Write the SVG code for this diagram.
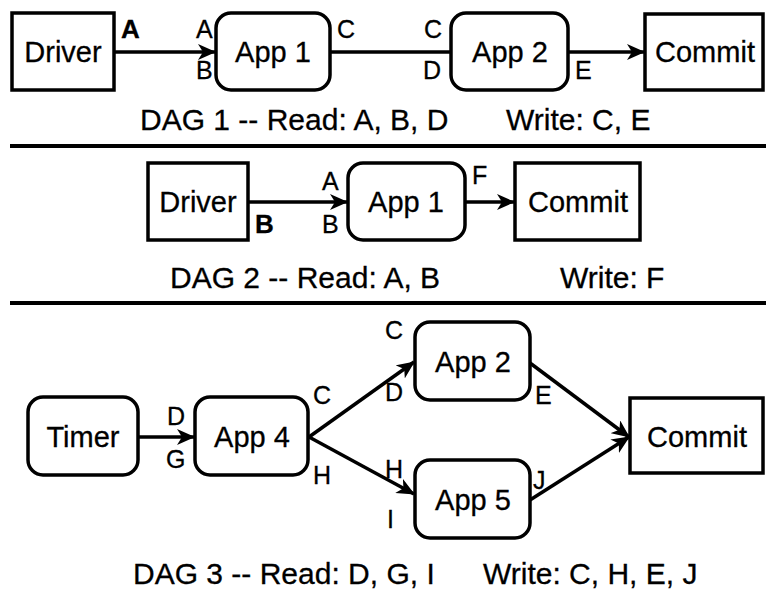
<svg xmlns="http://www.w3.org/2000/svg" width="766" height="589" viewBox="0 0 766 589">
  <defs>
    <marker id="arrow" markerUnits="userSpaceOnUse" markerWidth="18" markerHeight="16" viewBox="0 0 18 16" refX="17" refY="8" orient="auto">
      <path d="M0,0 L18,8 L0,16 L5,8 z" fill="#000"/>
    </marker>
    <style>
      .box { fill: #fff; stroke: #000; stroke-width: 3.5; }
      .edge { fill: none; stroke: #000; stroke-width: 3.5; }
      .arrow { marker-end: url(#arrow); }
      .name { font-family: "Liberation Sans", Arial, sans-serif; font-size: 29px; text-anchor: middle; fill: #000; stroke: #000; stroke-width: 0.3; }
      .lbl { font-family: "Liberation Sans", Arial, sans-serif; font-size: 25px; fill: #000; stroke: #000; stroke-width: 0.3; }
      .bold { font-weight: bold; font-size: 26px; }
      .cap { font-family: "Liberation Sans", Arial, sans-serif; font-size: 30px; fill: #000; stroke: #000; stroke-width: 0.3; }
      .sep { stroke: #000; stroke-width: 4; }
    </style>
  </defs>
  <rect width="766" height="589" fill="#fff"/>

  <!-- connectors -->
  <g id="connectors">
    <line class="edge arrow" x1="114" y1="52" x2="215" y2="52"/>
    <line class="edge" x1="330" y1="52" x2="451" y2="52"/>
    <line class="edge arrow" x1="568" y1="52" x2="644" y2="52"/>

    <line class="edge arrow" x1="248" y1="202" x2="347" y2="202"/>
    <line class="edge arrow" x1="465" y1="202" x2="514" y2="202"/>

    <line class="edge arrow" x1="138" y1="437" x2="194" y2="437"/>
    <line class="edge arrow" x1="309" y1="437" x2="414" y2="362"/>
    <line class="edge arrow" x1="309" y1="437" x2="414" y2="494"/>
    <line class="edge arrow" x1="530" y1="363" x2="629" y2="437"/>
    <line class="edge arrow" x1="530" y1="500" x2="629" y2="437"/>
  </g>

  <!-- DAG 1 -->
  <g id="dag1-driver">
    <rect class="box" x="12" y="13" width="102" height="77"/>
    <text class="name" x="63" y="62">Driver</text>
    <text class="lbl bold" x="121" y="38">A</text>
  </g>
  <g id="dag1-app1">
    <rect class="box" x="216" y="13" width="114" height="77" rx="15"/>
    <text class="name" x="273" y="62">App 1</text>
    <text class="lbl" x="196" y="38">A</text>
    <text class="lbl" x="196" y="79">B</text>
    <text class="lbl" x="337" y="38">C</text>
  </g>
  <g id="dag1-app2">
    <rect class="box" x="451" y="13" width="117" height="77" rx="15"/>
    <text class="name" x="510" y="62">App 2</text>
    <text class="lbl" x="424" y="38">C</text>
    <text class="lbl" x="423" y="79">D</text>
    <text class="lbl" x="575" y="79">E</text>
  </g>
  <g id="dag1-commit">
    <rect class="box" x="645" y="14" width="118" height="76"/>
    <text class="name" x="705" y="62">Commit</text>
  </g>
  <text class="cap" x="140" y="130">DAG 1 -- Read: A, B, D</text>
  <text class="cap" x="506" y="130">Write: C, E</text>
  <line class="sep" x1="10" y1="146" x2="766" y2="146"/>

  <!-- DAG 2 -->
  <g id="dag2-driver">
    <rect class="box" x="148" y="163" width="100" height="77"/>
    <text class="name" x="198" y="212">Driver</text>
    <text class="lbl bold" x="255" y="233">B</text>
  </g>
  <g id="dag2-app1">
    <rect class="box" x="348" y="163" width="117" height="77" rx="15"/>
    <text class="name" x="406" y="212">App 1</text>
    <text class="lbl" x="322" y="190">A</text>
    <text class="lbl" x="322" y="233">B</text>
    <text class="lbl" x="472" y="184">F</text>
  </g>
  <g id="dag2-commit">
    <rect class="box" x="515" y="163" width="125" height="77"/>
    <text class="name" x="578" y="212">Commit</text>
  </g>
  <text class="cap" x="170" y="288">DAG 2 -- Read: A, B</text>
  <text class="cap" x="560" y="288">Write: F</text>
  <line class="sep" x1="10" y1="303" x2="766" y2="303"/>

  <!-- DAG 3 -->
  <g id="dag3-timer">
    <rect class="box" x="28" y="397" width="110" height="78" rx="15"/>
    <text class="name" x="83" y="447">Timer</text>
  </g>
  <g id="dag3-app4">
    <rect class="box" x="195" y="397" width="113" height="78" rx="15"/>
    <text class="name" x="252" y="447">App 4</text>
    <text class="lbl" x="167" y="425">D</text>
    <text class="lbl" x="166" y="468">G</text>
    <text class="lbl" x="313" y="404">C</text>
    <text class="lbl" x="313" y="484">H</text>
  </g>
  <g id="dag3-app2">
    <rect class="box" x="415" y="322" width="115" height="78" rx="15"/>
    <text class="name" x="473" y="372">App 2</text>
    <text class="lbl" x="385" y="339">C</text>
    <text class="lbl" x="385" y="401">D</text>
    <text class="lbl" x="535" y="404">E</text>
  </g>
  <g id="dag3-app5">
    <rect class="box" x="415" y="460" width="115" height="78" rx="15"/>
    <text class="name" x="473" y="510">App 5</text>
    <text class="lbl" x="385" y="478">H</text>
    <text class="lbl" x="387" y="528">I</text>
    <text class="lbl" x="533" y="489">J</text>
  </g>
  <g id="dag3-commit">
    <rect class="box" x="630" y="398" width="133" height="75"/>
    <text class="name" x="697" y="447">Commit</text>
  </g>
  <text class="cap" x="133" y="584">DAG 3 -- Read: D, G, I</text>
  <text class="cap" x="483" y="584">Write: C, H, E, J</text>
</svg>
